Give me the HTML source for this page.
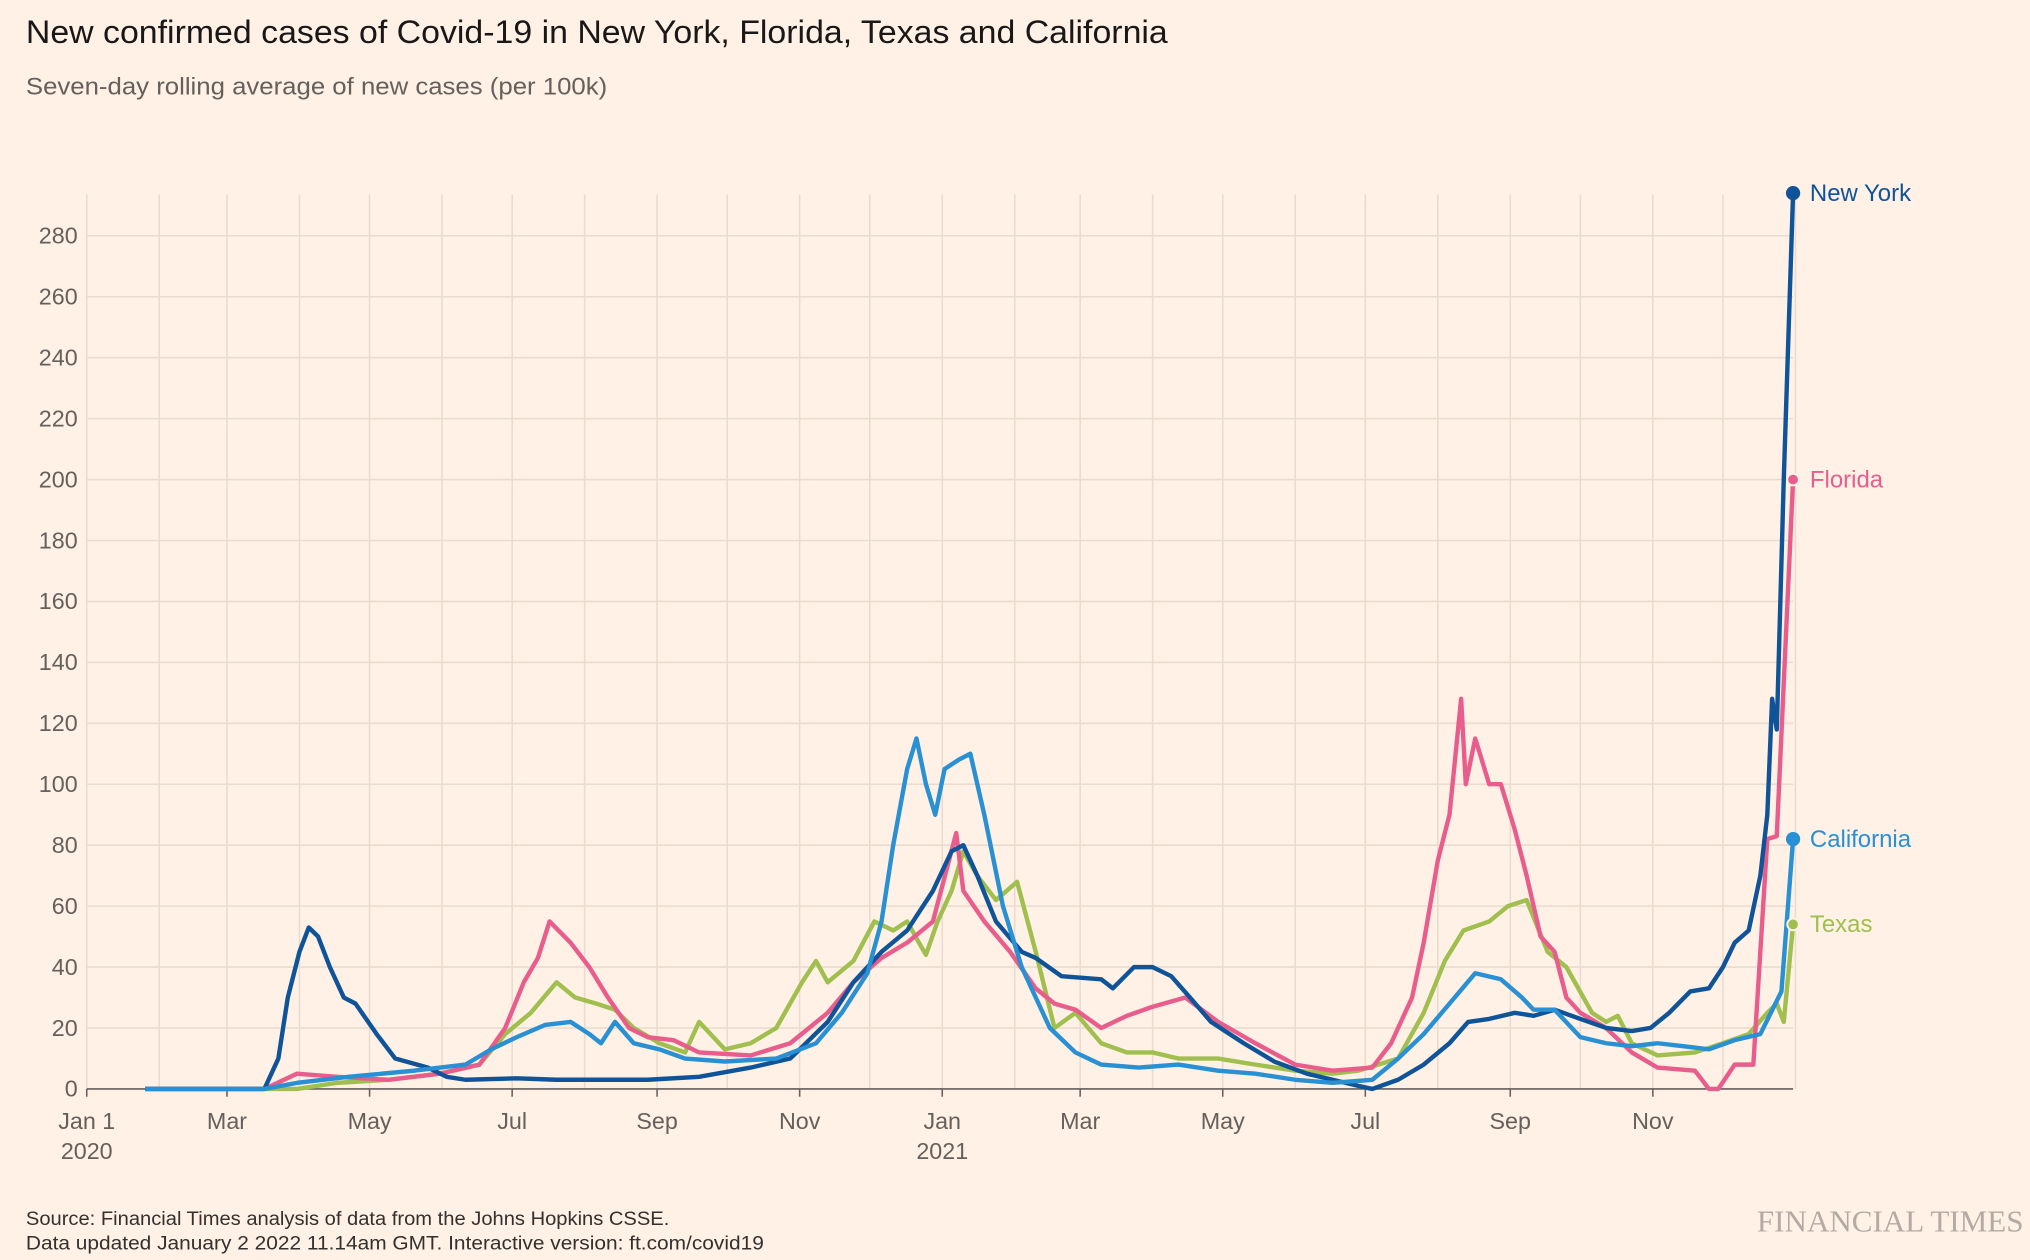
<!DOCTYPE html>
<html><head><meta charset="utf-8"><style>
html,body{margin:0;padding:0;background:#fff1e5;}
svg{display:block;font-family:"Liberation Sans",sans-serif;}
</style></head><body>
<svg id="chart" width="2030" height="1260" viewBox="0 0 1568 973" xmlns="http://www.w3.org/2000/svg">
<rect width="1568" height="973" fill="#fff1e5"/>
<text x="20" y="33" font-size="25" textLength="882" lengthAdjust="spacingAndGlyphs" fill="#1a1817">New confirmed cases of Covid-19 in New York, Florida, Texas and California</text>
<text x="20" y="73" font-size="18.5" textLength="449" lengthAdjust="spacingAndGlyphs" fill="#66605c">Seven-day rolling average of new cases (per 100k)</text>
<g id="grid"></g>
<g id="yticks"></g>
<g id="xticks"></g>
<g id="lines"></g>
<g id="labels"></g>
<text x="20" y="946" font-size="15" textLength="497" lengthAdjust="spacingAndGlyphs" fill="#33302e">Source: Financial Times analysis of data from the Johns Hopkins CSSE.</text>
<text x="20" y="965" font-size="15" textLength="570" lengthAdjust="spacingAndGlyphs" fill="#33302e">Data updated January 2 2022 11.14am GMT. Interactive version: ft.com/covid19</text>
<text x="1563" y="951" font-size="24" text-anchor="end" fill="#b3aaa3" font-family="Liberation Serif,serif">FINANCIAL TIMES</text>
</svg>
<script>
const yTicks=[0,20,40,60,80,100,120,140,160,180,200,220,240,260,280];
const monthDays=[0,31,60,91,121,152,182,213,244,274,305,335,366,397,425,456,486,517,547,578,609,639,670,700,731];
const xLabels=[["Jan 1","2020"],["Mar"],["May"],["Jul"],["Sep"],["Nov"],["Jan","2021"],["Mar"],["May"],["Jul"],["Sep"],["Nov"]];
const xLabelIdx=[0,2,4,6,8,10,12,14,16,18,20,22];

const nyDays=[25,76,82,86,91,95,99,104,110,115,124,132,146,154,162,184,201,240,262,284,301,317,328,340,351,362,370,375,381,389,400,406,417,434,439,448,456,464,472,481,495,508,522,533,544,550,561,572,583,591,600,611,619,628,639,650,661,669,677,686,694,700,705,711,716,719,721,723,726,730];
const nyVals=[0,0,10,30,45,53,50,40,30,28,18,10,7,4,3,3.5,3,3,4,7,10,22,35,45,52,65,78,80,70,55,45,43,37,36,33,40,40,37,30,22,15,9,5,3,1,0,3,8,15,22,23,25,24,26,23,20,19,20,25,32,33,40,48,52,70,90,128,118,200,294];

const flDays=[25,76,90,107,129,151,168,179,187,193,198,207,215,223,232,240,251,262,284,301,317,328,340,351,362,372,375,384,395,406,414,423,434,445,456,470,484,500,517,533,550,558,567,572,578,583,588,590,594,600,605,611,616,622,628,633,639,650,661,672,688,694,698,705,713,719,723,730];
const flVals=[0,0,5,4,3,5,8,20,35,43,55,48,40,30,20,17,16,12,11,15,25,35,43,48,55,84,65,55,45,33,28,26,20,24,27,30,22,15,8,6,7,15,30,48,75,90,128,100,115,100,100,85,70,50,45,30,25,20,12,7,6,0,0,8,8,82,83,200];

const txDays=[25,90,107,129,151,168,179,190,201,209,218,226,234,245,256,262,273,284,295,306,312,317,328,337,345,351,356,359,364,370,375,381,389,398,406,414,423,434,445,456,467,484,500,517,533,544,561,572,581,589,600,608,616,625,633,644,650,655,661,672,688,700,711,719,723,726,730];
const txVals=[0,0,2,3,5,8,18,25,35,30,28,26,20,15,12,22,13,15,20,35,42,35,42,55,52,55,48,44,55,65,78,70,62,68,45,20,25,15,12,12,10,10,8,6,5,6,10,25,42,52,55,60,62,45,40,25,22,24,15,11,12,15,18,25,28,22,54];

const caDays=[25,76,90,112,140,162,173,184,196,207,215,220,226,234,245,256,273,295,312,323,334,340,345,351,355,359,363,367,373,378,384,392,400,412,423,434,450,467,484,500,517,533,550,561,572,583,594,605,614,619,628,639,650,661,672,683,694,705,716,725,730];
const caVals=[0,0,2,4,6,8,13,17,21,22,18,15,22,15,13,10,9,10,15,25,38,55,80,105,115,100,90,105,108,110,90,60,40,20,12,8,7,8,6,5,3,2,3,10,18,28,38,36,30,26,26,17,15,14,15,14,13,16,18,32,82];

const NS="http://www.w3.org/2000/svg";
const X0=67,PXD=1318/730,Y0=841,PXV=(841-182)/280;
const xs=d=>X0+d*PXD, ys=v=>Y0-v*PXV;
function mk(tag,attrs,parent){const e=document.createElementNS(NS,tag);for(const k in attrs)e.setAttribute(k,attrs[k]);parent.appendChild(e);return e;}
const grid=document.getElementById('grid'),yt=document.getElementById('yticks'),xt=document.getElementById('xticks');
yTicks.forEach(v=>{
  const l=mk('line',{x1:X0,x2:1385,y1:ys(v),y2:ys(v),stroke:'#e9dccf','stroke-width':1.2},grid);
  
  
  const t=mk('text',{x:60,y:ys(v)+6,'font-size':18,'text-anchor':'end',fill:'#66605c'},yt);
  t.textContent=v;
  
  
});
monthDays.forEach(d=>{
  const l=mk('line',{x1:xs(d),x2:xs(d),y1:150,y2:Y0,stroke:'#e9dccf','stroke-width':1.2},grid);
  
  
});
const base=mk('line',{x1:X0,x2:1385,y1:Y0,y2:Y0,stroke:'#66605c','stroke-width':1.3},xt);


xLabelIdx.forEach((mi,i)=>{
  const x=xs(monthDays[mi]);
  const tk=mk('line',{x1:x,x2:x,y1:Y0,y2:Y0+6,stroke:'#66605c','stroke-width':1.2},xt);
  
  
  xLabels[i].forEach((s,j)=>{
    const t=mk('text',{x:x,y:Y0+31+j*23,'font-size':18,'text-anchor':'middle',fill:'#66605c'},xt);
    t.textContent=s;
    
    
  });
});
const series=[
 {name:'Texas',days:txDays,vals:txVals,c:'#a0bf4e',ring:true},
 {name:'Florida',days:flDays,vals:flVals,c:'#e95d8c',ring:true},
 {name:'New York',days:nyDays,vals:nyVals,c:'#0f5499',ring:false},
 {name:'California',days:caDays,vals:caVals,c:'#2890d3',ring:false}
];
const lg=document.getElementById('lines'),lb=document.getElementById('labels');
series.forEach(s=>{
  const d=s.days.map((dd,i)=>(i?'L':'M')+xs(dd).toFixed(1)+','+ys(s.vals[i]).toFixed(1)).join('');
  const p=mk('path',{d:d,fill:'none',stroke:s.c,'stroke-width':3.4,'stroke-linejoin':'round'},lg);
  
  
  const ld=s.days[s.days.length-1],lv=s.vals[s.vals.length-1];
  const c=mk('circle',{cx:xs(ld),cy:ys(lv),r:s.ring?4.5:5.5,fill:s.c,stroke:s.ring?'#fff1e5':'none','stroke-width':1.5},lb);
  
  
  const t=mk('text',{x:xs(ld)+13,y:ys(lv)+6,'font-size':18.5,fill:s.c},lb);
  t.textContent=s.name;
  
  
});
</script>
</body></html>
